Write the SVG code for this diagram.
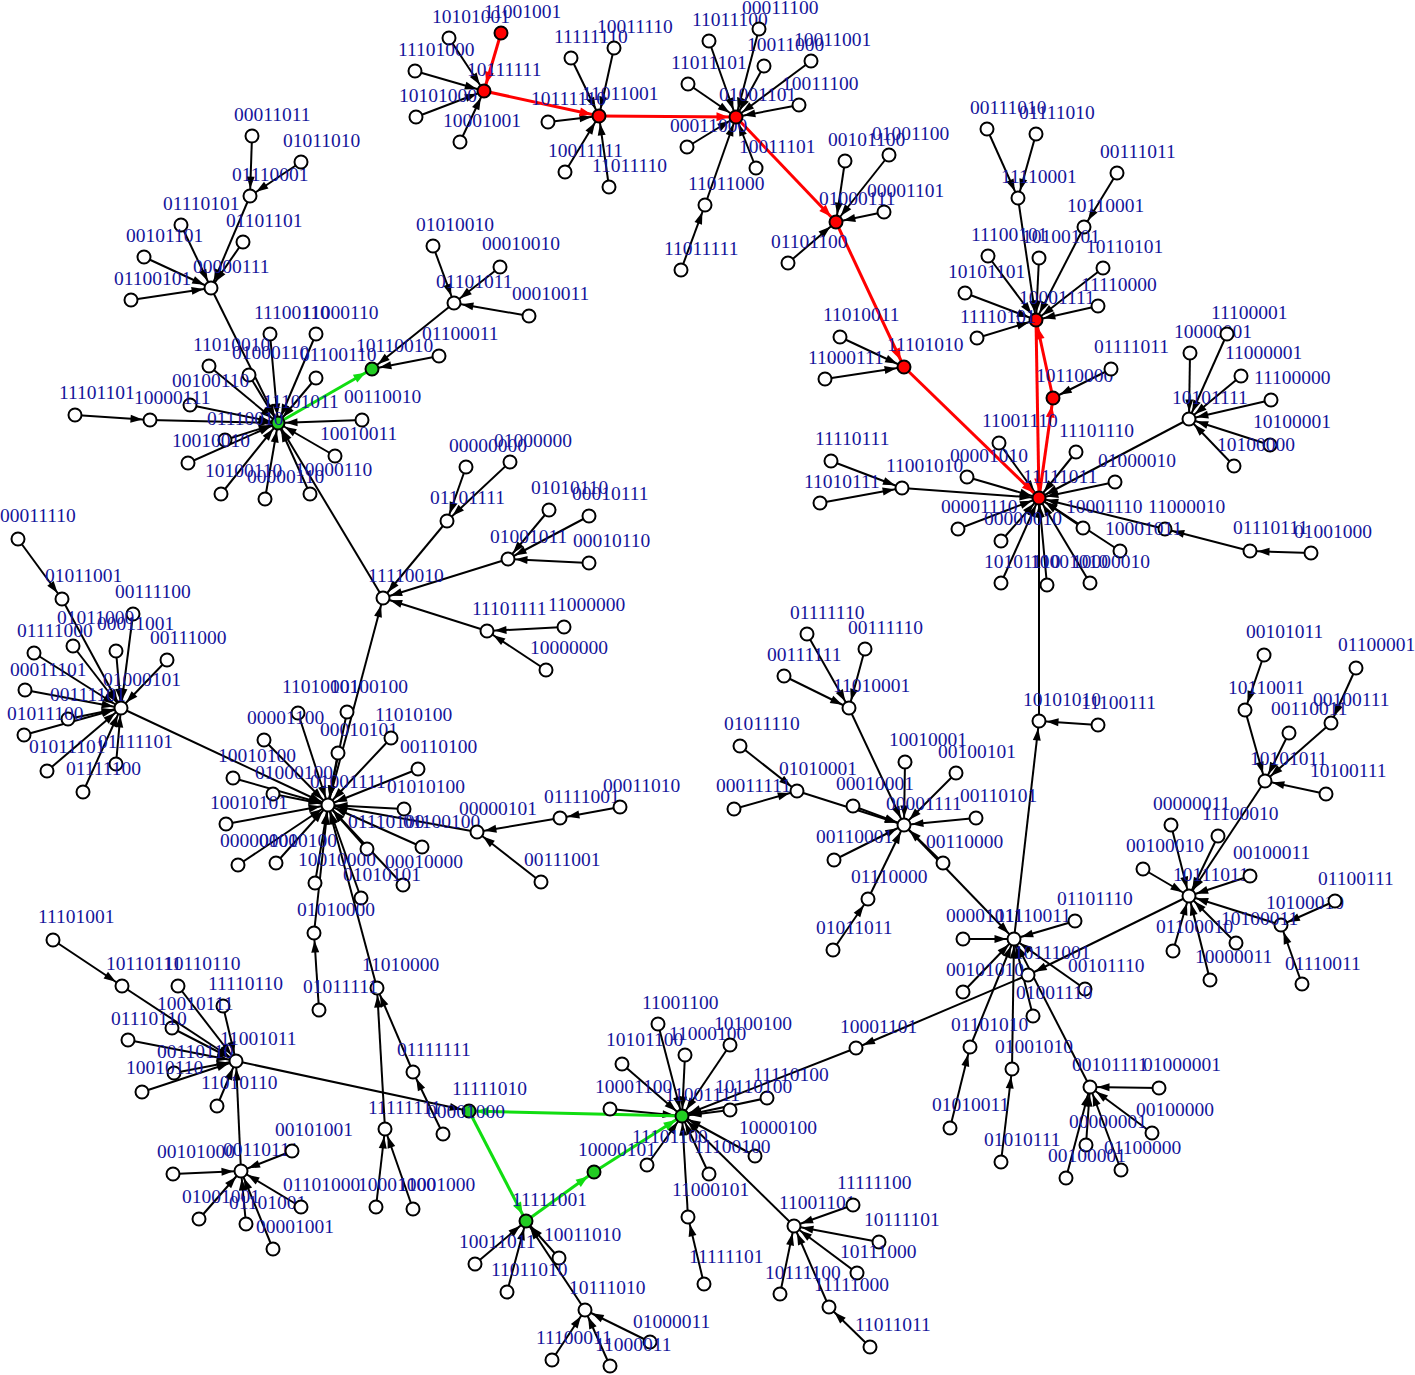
<svg xmlns="http://www.w3.org/2000/svg" width="1415" height="1375" viewBox="0 0 1415 1375">
<style>
.e path{fill:none;stroke:#000;stroke-width:2;marker-end:url(#ab)}
.e path.r{stroke:#ff0000;stroke-width:3;marker-end:url(#ar)}
.e path.g{stroke:#11dd11;stroke-width:3;marker-end:url(#ag)}
circle{fill:#fff;stroke:#000;stroke-width:2}
circle.r{fill:#ff0000}
circle.g{fill:#22cc22}
text{font-family:"Liberation Serif","Times New Roman",serif;font-size:19.5px;fill:#14149a}
</style>
<defs>
<marker id="ab" markerUnits="userSpaceOnUse" markerWidth="12" markerHeight="8" refX="19.5" refY="4" orient="auto" overflow="visible"><path d="M0,0L12,4L0,8z" fill="#000"/></marker>
<marker id="ar" markerUnits="userSpaceOnUse" markerWidth="12" markerHeight="9" refX="19.5" refY="4.5" orient="auto" overflow="visible"><path d="M0,0L12,4.5L0,9z" fill="#ff0000"/></marker>
<marker id="ag" markerUnits="userSpaceOnUse" markerWidth="12" markerHeight="9" refX="19.5" refY="4.5" orient="auto" overflow="visible"><path d="M0,0L12,4.5L0,9z" fill="#11dd11"/></marker>
</defs>
<rect width="1415" height="1375" fill="#fff"/>
<g id="connectors" class="e">
<path d="M449 38L484 91"/><path d="M415 71L484 91"/><path d="M416 117L484 91"/><path d="M460 142L484 91"/>
<path d="M571 58L599 116"/><path d="M614 48L599 116"/><path d="M548 122L599 116"/><path d="M565 172L599 116"/><path d="M609 187L599 116"/>
<path d="M709 41L736 117"/><path d="M759 29L736 117"/><path d="M764 66L736 117"/><path d="M811 61L736 117"/><path d="M688 84L736 117"/><path d="M799 105L736 117"/><path d="M687 147L736 117"/><path d="M756 168L736 117"/><path d="M705 205L736 117"/><path d="M681 270L705 205"/>
<path d="M845 161L836 222"/><path d="M889 155L836 222"/><path d="M884 212L836 222"/><path d="M788 263L836 222"/>
<path d="M840 337L904 367"/><path d="M825 379L904 367"/>
<path d="M1111 369L1053 398"/>
<path d="M1018 198L1036 320"/><path d="M987 129L1018 198"/><path d="M1036 134L1018 198"/><path d="M1084 227L1036 320"/><path d="M1117 173L1084 227"/>
<path d="M988 256L1036 320"/><path d="M1039 258L1036 320"/><path d="M1103 268L1036 320"/><path d="M965 293L1036 320"/><path d="M1098 306L1036 320"/><path d="M977 338L1036 320"/>
<path d="M1189 419L1039 498"/><path d="M1190 353L1189 419"/><path d="M1227 334L1189 419"/><path d="M1241 376L1189 419"/><path d="M1271 400L1189 419"/><path d="M1270 445L1189 419"/><path d="M1234 466L1189 419"/>
<path d="M999 443L1039 498"/><path d="M1076 452L1039 498"/><path d="M967 477L1039 498"/><path d="M1115 482L1039 498"/><path d="M1083 528L1039 498"/><path d="M1165 529L1039 498"/><path d="M1250 551L1165 529"/><path d="M1311 553L1250 551"/>
<path d="M1120 551L1039 498"/><path d="M958 529L1039 498"/><path d="M1001 541L1039 498"/><path d="M1001 583L1039 498"/><path d="M1047 585L1039 498"/><path d="M1090 583L1039 498"/>
<path d="M902 488L1039 498"/><path d="M831 461L902 488"/><path d="M820 503L902 488"/>
<path d="M1039 721L1039 498"/><path d="M1098 725L1039 721"/><path d="M1014 939L1039 721"/>
<path d="M963 939L1014 939"/><path d="M1075 921L1014 939"/><path d="M904 825L1014 939"/>
<path d="M963 992L1014 939"/><path d="M1085 989L1014 939"/><path d="M1033 1016L1014 939"/><path d="M970 1047L1014 939"/><path d="M950 1128L970 1047"/><path d="M1012 1069L1014 939"/><path d="M1001 1162L1012 1069"/>
<path d="M1090 1087L1014 939"/><path d="M1159 1088L1090 1087"/><path d="M1152 1133L1090 1087"/><path d="M1086 1145L1090 1087"/><path d="M1121 1170L1090 1087"/><path d="M1066 1178L1090 1087"/>
<path d="M849 708L904 825"/><path d="M807 634L849 708"/><path d="M865 649L849 708"/><path d="M784 676L849 708"/>
<path d="M797 791L904 825"/><path d="M740 746L797 791"/><path d="M734 809L797 791"/>
<path d="M853 806L904 825"/><path d="M834 860L904 825"/><path d="M868 899L904 825"/><path d="M833 950L868 899"/>
<path d="M905 762L904 825"/><path d="M956 773L904 825"/><path d="M976 818L904 825"/><path d="M943 863L904 825"/>
<path d="M1265 781L1189 896"/><path d="M1245 710L1265 781"/><path d="M1264 655L1245 710"/><path d="M1331 723L1265 781"/><path d="M1356 668L1331 723"/><path d="M1289 733L1265 781"/><path d="M1326 794L1265 781"/>
<path d="M1171 825L1189 896"/><path d="M1218 836L1189 896"/><path d="M1143 869L1189 896"/><path d="M1250 876L1189 896"/><path d="M1281 925L1189 896"/><path d="M1335 901L1281 925"/><path d="M1302 984L1281 925"/>
<path d="M1236 943L1189 896"/><path d="M1173 951L1189 896"/><path d="M1210 980L1189 896"/>
<path d="M1189 896L1028 975"/><path d="M1028 975L856 1048"/><path d="M856 1048L682 1116"/>
<path d="M658 1024L682 1116"/><path d="M685 1055L682 1116"/><path d="M730 1045L682 1116"/><path d="M622 1064L682 1116"/><path d="M610 1109L682 1116"/><path d="M767 1098L682 1116"/><path d="M730 1110L682 1116"/>
<path d="M647 1165L682 1116"/><path d="M755 1156L682 1116"/><path d="M709 1174L682 1116"/><path d="M688 1217L682 1116"/><path d="M704 1284L688 1217"/>
<path d="M794 1226L682 1116"/><path d="M853 1205L794 1226"/><path d="M879 1242L794 1226"/><path d="M857 1273L794 1226"/><path d="M780 1294L794 1226"/><path d="M829 1307L794 1226"/><path d="M870 1347L829 1307"/>
<path d="M559 1258L526 1221"/><path d="M475 1264L526 1221"/><path d="M507 1292L526 1221"/><path d="M585 1310L526 1221"/><path d="M650 1342L585 1310"/><path d="M552 1360L585 1310"/><path d="M610 1366L585 1310"/>
<path d="M236 1061L469 1111"/>
<path d="M443 1134L413 1072"/><path d="M413 1072L377 988"/><path d="M385 1129L377 988"/><path d="M376 1207L385 1129"/><path d="M413 1209L385 1129"/><path d="M377 988L328 805"/>
<path d="M241 1171L236 1061"/><path d="M173 1174L241 1171"/><path d="M292 1151L241 1171"/><path d="M199 1219L241 1171"/><path d="M246 1224L241 1171"/><path d="M301 1207L241 1171"/><path d="M273 1249L241 1171"/>
<path d="M122 986L236 1061"/><path d="M53 940L122 986"/><path d="M178 986L236 1061"/><path d="M223 1006L236 1061"/><path d="M172 1028L236 1061"/><path d="M128 1040L236 1061"/><path d="M174 1073L236 1061"/><path d="M142 1092L236 1061"/><path d="M217 1106L236 1061"/>
<path d="M328 805L383 598"/>
<path d="M347 712L328 805"/><path d="M298 713L328 805"/><path d="M264 740L328 805"/><path d="M338 753L328 805"/><path d="M391 738L328 805"/><path d="M233 778L328 805"/><path d="M273 794L328 805"/><path d="M418 769L328 805"/><path d="M404 809L328 805"/><path d="M226 824L328 805"/>
<path d="M238 865L328 805"/><path d="M276 863L328 805"/><path d="M367 849L328 805"/><path d="M422 847L328 805"/><path d="M315 883L328 805"/><path d="M403 885L328 805"/><path d="M361 898L328 805"/><path d="M314 933L328 805"/><path d="M319 1010L314 933"/>
<path d="M477 832L328 805"/><path d="M560 818L477 832"/><path d="M620 807L560 818"/><path d="M541 882L477 832"/>
<path d="M121 708L328 805"/><path d="M62 599L121 708"/><path d="M18 539L62 599"/><path d="M133 614L121 708"/><path d="M73 646L121 708"/><path d="M116 651L121 708"/><path d="M34 653L121 708"/><path d="M167 660L121 708"/><path d="M25 690L121 708"/><path d="M68 719L121 708"/><path d="M24 735L121 708"/><path d="M47 771L121 708"/><path d="M116 764L121 708"/><path d="M83 792L121 708"/>
<path d="M383 598L278 423"/>
<path d="M447 521L383 598"/><path d="M466 467L447 521"/><path d="M510 462L447 521"/>
<path d="M508 559L383 598"/><path d="M549 510L508 559"/><path d="M589 516L508 559"/><path d="M589 563L508 559"/>
<path d="M487 631L383 598"/><path d="M564 627L487 631"/><path d="M546 670L487 631"/>
<path d="M439 356L372 369"/><path d="M454 303L372 369"/><path d="M433 246L454 303"/><path d="M500 267L454 303"/><path d="M529 316L454 303"/>
<path d="M211 288L278 423"/><path d="M250 196L211 288"/><path d="M252 136L250 196"/><path d="M301 162L250 196"/><path d="M181 225L211 288"/><path d="M243 242L211 288"/><path d="M144 257L211 288"/><path d="M131 300L211 288"/>
<path d="M270 334L278 423"/><path d="M316 334L278 423"/><path d="M209 366L278 423"/><path d="M249 375L278 423"/><path d="M316 378L278 423"/><path d="M190 405L278 423"/><path d="M150 420L278 423"/><path d="M75 415L150 420"/>
<path d="M225 440L278 423"/><path d="M188 463L278 423"/><path d="M221 494L278 423"/><path d="M265 499L278 423"/><path d="M310 494L278 423"/><path d="M335 456L278 423"/><path d="M362 420L278 423"/>
<path class="r" d="M501 33L484 91"/><path class="r" d="M484 91L599 116"/><path class="r" d="M599 116L736 117"/><path class="r" d="M736 117L836 222"/><path class="r" d="M836 222L904 367"/><path class="r" d="M904 367L1039 498"/><path class="r" d="M1039 498L1053 398"/><path class="r" d="M1053 398L1036 320"/><path class="r" d="M1036 320L1039 498"/>
<path class="g" d="M278 423L372 369"/><path class="g" d="M682 1116L469 1111"/><path class="g" d="M469 1111L526 1221"/><path class="g" d="M526 1221L594 1172"/><path class="g" d="M594 1172L682 1116"/>
</g>
<g id="n11001001"><circle class="r" cx="501" cy="33" r="6.5"/><text x="484" y="18">11001001</text></g>
<g id="n10101001"><circle cx="449" cy="38" r="6.5"/><text x="432" y="23">10101001</text></g>
<g id="n11101000"><circle cx="415" cy="71" r="6.5"/><text x="398" y="56">11101000</text></g>
<g id="n10101000"><circle cx="416" cy="117" r="6.5"/><text x="399" y="102">10101000</text></g>
<g id="n10001001"><circle cx="460" cy="142" r="6.5"/><text x="443" y="127">10001001</text></g>
<g id="n10111111"><circle class="r" cx="484" cy="91" r="6.5"/><text x="467" y="76">10111111</text></g>
<g id="n11111110"><circle cx="571" cy="58" r="6.5"/><text x="554" y="43">11111110</text></g>
<g id="n10011110"><circle cx="614" cy="48" r="6.5"/><text x="597" y="33">10011110</text></g>
<g id="n10111110"><circle cx="548" cy="122" r="6.5"/><text x="531" y="105">10111110</text></g>
<g id="n10011111"><circle cx="565" cy="172" r="6.5"/><text x="548" y="157">10011111</text></g>
<g id="n11011110"><circle cx="609" cy="187" r="6.5"/><text x="592" y="172">11011110</text></g>
<g id="n11011001"><circle class="r" cx="599" cy="116" r="6.5"/><text x="582" y="100">11011001</text></g>
<g id="n11011100"><circle cx="709" cy="41" r="6.5"/><text x="692" y="26">11011100</text></g>
<g id="n00011100"><circle cx="759" cy="29" r="6.5"/><text x="742" y="14">00011100</text></g>
<g id="n10011000"><circle cx="764" cy="66" r="6.5"/><text x="747" y="51">10011000</text></g>
<g id="n10011001"><circle cx="811" cy="61" r="6.5"/><text x="794" y="46">10011001</text></g>
<g id="n11011101"><circle cx="688" cy="84" r="6.5"/><text x="671" y="69">11011101</text></g>
<g id="n10011100"><circle cx="799" cy="105" r="6.5"/><text x="782" y="90">10011100</text></g>
<g id="n00011000"><circle cx="687" cy="147" r="6.5"/><text x="670" y="132">00011000</text></g>
<g id="n10011101"><circle cx="756" cy="168" r="6.5"/><text x="739" y="153">10011101</text></g>
<g id="n11011000"><circle cx="705" cy="205" r="6.5"/><text x="688" y="190">11011000</text></g>
<g id="n11011111"><circle cx="681" cy="270" r="6.5"/><text x="664" y="255">11011111</text></g>
<g id="n01001101"><circle class="r" cx="736" cy="117" r="6.5"/><text x="719" y="101">01001101</text></g>
<g id="n00101100"><circle cx="845" cy="161" r="6.5"/><text x="828" y="146">00101100</text></g>
<g id="n01001100"><circle cx="889" cy="155" r="6.5"/><text x="872" y="140">01001100</text></g>
<g id="n00001101"><circle cx="884" cy="212" r="6.5"/><text x="867" y="197">00001101</text></g>
<g id="n01101100"><circle cx="788" cy="263" r="6.5"/><text x="771" y="248">01101100</text></g>
<g id="n01000111"><circle class="r" cx="836" cy="222" r="6.5"/><text x="819" y="205">01000111</text></g>
<g id="n11010011"><circle cx="840" cy="337" r="6.5"/><text x="823" y="321">11010011</text></g>
<g id="n11000111"><circle cx="825" cy="379" r="6.5"/><text x="808" y="364">11000111</text></g>
<g id="n11101010"><circle class="r" cx="904" cy="367" r="6.5"/><text x="887" y="351">11101010</text></g>
<g id="n10110000"><circle class="r" cx="1053" cy="398" r="6.5"/><text x="1036" y="382">10110000</text></g>
<g id="n10001111"><circle class="r" cx="1036" cy="320" r="6.5"/><text x="1019" y="304">10001111</text></g>
<g id="n01111011"><circle cx="1111" cy="369" r="6.5"/><text x="1094" y="353">01111011</text></g>
<g id="n11110001"><circle cx="1018" cy="198" r="6.5"/><text x="1001" y="183">11110001</text></g>
<g id="n00111010"><circle cx="987" cy="129" r="6.5"/><text x="970" y="114">00111010</text></g>
<g id="n01111010"><circle cx="1036" cy="134" r="6.5"/><text x="1019" y="119">01111010</text></g>
<g id="n10110001"><circle cx="1084" cy="227" r="6.5"/><text x="1067" y="212">10110001</text></g>
<g id="n00111011"><circle cx="1117" cy="173" r="6.5"/><text x="1100" y="158">00111011</text></g>
<g id="n11100101"><circle cx="988" cy="256" r="6.5"/><text x="971" y="241">11100101</text></g>
<g id="n10100101"><circle cx="1039" cy="258" r="6.5"/><text x="1022" y="243">10100101</text></g>
<g id="n10110101"><circle cx="1103" cy="268" r="6.5"/><text x="1086" y="253">10110101</text></g>
<g id="n10101101"><circle cx="965" cy="293" r="6.5"/><text x="948" y="278">10101101</text></g>
<g id="n11110000"><circle cx="1098" cy="306" r="6.5"/><text x="1081" y="291">11110000</text></g>
<g id="n11110101"><circle cx="977" cy="338" r="6.5"/><text x="960" y="323">11110101</text></g>
<g id="n10101111"><circle cx="1189" cy="419" r="6.5"/><text x="1172" y="404">10101111</text></g>
<g id="n10000001"><circle cx="1190" cy="353" r="6.5"/><text x="1174" y="338">10000001</text></g>
<g id="n11100001"><circle cx="1227" cy="334" r="6.5"/><text x="1211" y="319">11100001</text></g>
<g id="n11000001"><circle cx="1241" cy="376" r="6.5"/><text x="1225" y="359">11000001</text></g>
<g id="n11100000"><circle cx="1271" cy="400" r="6.5"/><text x="1254" y="384">11100000</text></g>
<g id="n10100001"><circle cx="1270" cy="445" r="6.5"/><text x="1253" y="428">10100001</text></g>
<g id="n10100000"><circle cx="1234" cy="466" r="6.5"/><text x="1217" y="451">10100000</text></g>
<g id="n11001110"><circle cx="999" cy="443" r="6.5"/><text x="982" y="427">11001110</text></g>
<g id="n11101110"><circle cx="1076" cy="452" r="6.5"/><text x="1059" y="437">11101110</text></g>
<g id="n00001010"><circle cx="967" cy="477" r="6.5"/><text x="950" y="462">00001010</text></g>
<g id="n01000010"><circle cx="1115" cy="482" r="6.5"/><text x="1098" y="467">01000010</text></g>
<g id="n10001110"><circle cx="1083" cy="528" r="6.5"/><text x="1066" y="513">10001110</text></g>
<g id="n11000010"><circle cx="1165" cy="529" r="6.5"/><text x="1148" y="513">11000010</text></g>
<g id="n01110111"><circle cx="1250" cy="551" r="6.5"/><text x="1233" y="534">01110111</text></g>
<g id="n01001000"><circle cx="1311" cy="553" r="6.5"/><text x="1294" y="538">01001000</text></g>
<g id="n10001011"><circle cx="1120" cy="551" r="6.5"/><text x="1105" y="535">10001011</text></g>
<g id="n00001110"><circle cx="958" cy="529" r="6.5"/><text x="941" y="513">00001110</text></g>
<g id="n00000010"><circle cx="1001" cy="541" r="6.5"/><text x="984" y="525">00000010</text></g>
<g id="n10101110"><circle cx="1001" cy="583" r="6.5"/><text x="984" y="568">10101110</text></g>
<g id="n10001010"><circle cx="1047" cy="585" r="6.5"/><text x="1030" y="568">10001010</text></g>
<g id="n10000010"><circle cx="1090" cy="583" r="6.5"/><text x="1072" y="568">10000010</text></g>
<g id="n11001010"><circle cx="902" cy="488" r="6.5"/><text x="886" y="472">11001010</text></g>
<g id="n11110111"><circle cx="831" cy="461" r="6.5"/><text x="815" y="445">11110111</text></g>
<g id="n11010111"><circle cx="820" cy="503" r="6.5"/><text x="804" y="488">11010111</text></g>
<g id="n11111011"><circle class="r" cx="1039" cy="498" r="6.5"/><text x="1023" y="483">11111011</text></g>
<g id="n10101010"><circle cx="1039" cy="721" r="6.5"/><text x="1023" y="706">10101010</text></g>
<g id="n11100111"><circle cx="1098" cy="725" r="6.5"/><text x="1081" y="709">11100111</text></g>
<g id="n11110011"><circle cx="1014" cy="939" r="6.5"/><text x="996" y="922">11110011</text></g>
<g id="n00001011"><circle cx="963" cy="939" r="6.5"/><text x="946" y="922">00001011</text></g>
<g id="n01101110"><circle cx="1075" cy="921" r="6.5"/><text x="1057" y="905">01101110</text></g>
<g id="n10111001"><circle cx="1028" cy="975" r="6.5"/><text x="1014" y="959">10111001</text></g>
<g id="n00101010"><circle cx="963" cy="992" r="6.5"/><text x="946" y="976">00101010</text></g>
<g id="n00101110"><circle cx="1085" cy="989" r="6.5"/><text x="1068" y="972">00101110</text></g>
<g id="n01001110"><circle cx="1033" cy="1016" r="6.5"/><text x="1016" y="999">01001110</text></g>
<g id="n01101010"><circle cx="970" cy="1047" r="6.5"/><text x="951" y="1031">01101010</text></g>
<g id="n01010011"><circle cx="950" cy="1128" r="6.5"/><text x="932" y="1111">01010011</text></g>
<g id="n01001010"><circle cx="1012" cy="1069" r="6.5"/><text x="995" y="1053">01001010</text></g>
<g id="n01010111"><circle cx="1001" cy="1162" r="6.5"/><text x="984" y="1146">01010111</text></g>
<g id="n00101111"><circle cx="1090" cy="1087" r="6.5"/><text x="1072" y="1071">00101111</text></g>
<g id="n01000001"><circle cx="1159" cy="1088" r="6.5"/><text x="1143" y="1071">01000001</text></g>
<g id="n00100000"><circle cx="1152" cy="1133" r="6.5"/><text x="1136" y="1116">00100000</text></g>
<g id="n00000001"><circle cx="1086" cy="1145" r="6.5"/><text x="1069" y="1128">00000001</text></g>
<g id="n01100000"><circle cx="1121" cy="1170" r="6.5"/><text x="1104" y="1154">01100000</text></g>
<g id="n00100001"><circle cx="1066" cy="1178" r="6.5"/><text x="1048" y="1162">00100001</text></g>
<g id="n00001111"><circle cx="904" cy="825" r="6.5"/><text x="886" y="810">00001111</text></g>
<g id="n11010001"><circle cx="849" cy="708" r="6.5"/><text x="833" y="692">11010001</text></g>
<g id="n01111110"><circle cx="807" cy="634" r="6.5"/><text x="790" y="619">01111110</text></g>
<g id="n00111110"><circle cx="865" cy="649" r="6.5"/><text x="848" y="634">00111110</text></g>
<g id="n00111111"><circle cx="784" cy="676" r="6.5"/><text x="767" y="661">00111111</text></g>
<g id="n01010001"><circle cx="797" cy="791" r="6.5"/><text x="779" y="775">01010001</text></g>
<g id="n01011110"><circle cx="740" cy="746" r="6.5"/><text x="724" y="730">01011110</text></g>
<g id="n00011111"><circle cx="734" cy="809" r="6.5"/><text x="716" y="792">00011111</text></g>
<g id="n00010001"><circle cx="853" cy="806" r="6.5"/><text x="836" y="790">00010001</text></g>
<g id="n00110001"><circle cx="834" cy="860" r="6.5"/><text x="816" y="843">00110001</text></g>
<g id="n01110000"><circle cx="868" cy="899" r="6.5"/><text x="851" y="883">01110000</text></g>
<g id="n01011011"><circle cx="833" cy="950" r="6.5"/><text x="816" y="934">01011011</text></g>
<g id="n10010001"><circle cx="905" cy="762" r="6.5"/><text x="889" y="746">10010001</text></g>
<g id="n00100101"><circle cx="956" cy="773" r="6.5"/><text x="938" y="758">00100101</text></g>
<g id="n00110101"><circle cx="976" cy="818" r="6.5"/><text x="960" y="802">00110101</text></g>
<g id="n00110000"><circle cx="943" cy="863" r="6.5"/><text x="926" y="848">00110000</text></g>
<g id="n10111011"><circle cx="1189" cy="896" r="6.5"/><text x="1173" y="881">10111011</text></g>
<g id="n10101011"><circle cx="1265" cy="781" r="6.5"/><text x="1250" y="765">10101011</text></g>
<g id="n10110011"><circle cx="1245" cy="710" r="6.5"/><text x="1228" y="694">10110011</text></g>
<g id="n00101011"><circle cx="1264" cy="655" r="6.5"/><text x="1246" y="638">00101011</text></g>
<g id="n00100111"><circle cx="1331" cy="723" r="6.5"/><text x="1313" y="706">00100111</text></g>
<g id="n01100001"><circle cx="1356" cy="668" r="6.5"/><text x="1338" y="651">01100001</text></g>
<g id="n00110011"><circle cx="1289" cy="733" r="6.5"/><text x="1271" y="715">00110011</text></g>
<g id="n10100111"><circle cx="1326" cy="794" r="6.5"/><text x="1310" y="777">10100111</text></g>
<g id="n00000011"><circle cx="1171" cy="825" r="6.5"/><text x="1153" y="810">00000011</text></g>
<g id="n11100010"><circle cx="1218" cy="836" r="6.5"/><text x="1202" y="820">11100010</text></g>
<g id="n00100010"><circle cx="1143" cy="869" r="6.5"/><text x="1126" y="852">00100010</text></g>
<g id="n00100011"><circle cx="1250" cy="876" r="6.5"/><text x="1233" y="859">00100011</text></g>
<g id="n10100010"><circle cx="1281" cy="925" r="6.5"/><text x="1266" y="909">10100010</text></g>
<g id="n01100111"><circle cx="1335" cy="901" r="6.5"/><text x="1318" y="885">01100111</text></g>
<g id="n01110011"><circle cx="1302" cy="984" r="6.5"/><text x="1285" y="970">01110011</text></g>
<g id="n10100011"><circle cx="1236" cy="943" r="6.5"/><text x="1221" y="925">10100011</text></g>
<g id="n01100010"><circle cx="1173" cy="951" r="6.5"/><text x="1156" y="933">01100010</text></g>
<g id="n10000011"><circle cx="1210" cy="980" r="6.5"/><text x="1195" y="963">10000011</text></g>
<g id="n10001101"><circle cx="856" cy="1048" r="6.5"/><text x="840" y="1033">10001101</text></g>
<g id="n11001100"><circle cx="658" cy="1024" r="6.5"/><text x="642" y="1009">11001100</text></g>
<g id="n11000100"><circle cx="685" cy="1055" r="6.5"/><text x="669" y="1040">11000100</text></g>
<g id="n10100100"><circle cx="730" cy="1045" r="6.5"/><text x="714" y="1030">10100100</text></g>
<g id="n10101100"><circle cx="622" cy="1064" r="6.5"/><text x="606" y="1046">10101100</text></g>
<g id="n10001100"><circle cx="610" cy="1109" r="6.5"/><text x="595" y="1093">10001100</text></g>
<g id="n11110100"><circle cx="767" cy="1098" r="6.5"/><text x="753" y="1081">11110100</text></g>
<g id="n10110100"><circle cx="730" cy="1110" r="6.5"/><text x="715" y="1093">10110100</text></g>
<g id="n11001111"><circle class="g" cx="682" cy="1116" r="6.5"/><text x="665" y="1101">11001111</text></g>
<g id="n10000101"><circle class="g" cx="594" cy="1172" r="6.5"/><text x="578" y="1156">10000101</text></g>
<g id="n11101100"><circle cx="647" cy="1165" r="6.5"/><text x="632" y="1143">11101100</text></g>
<g id="n10000100"><circle cx="755" cy="1156" r="6.5"/><text x="739" y="1134">10000100</text></g>
<g id="n11100100"><circle cx="709" cy="1174" r="6.5"/><text x="694" y="1153">11100100</text></g>
<g id="n11000101"><circle cx="688" cy="1217" r="6.5"/><text x="672" y="1196">11000101</text></g>
<g id="n11111101"><circle cx="704" cy="1284" r="6.5"/><text x="689" y="1263">11111101</text></g>
<g id="n11001101"><circle cx="794" cy="1226" r="6.5"/><text x="779" y="1209">11001101</text></g>
<g id="n11111100"><circle cx="853" cy="1205" r="6.5"/><text x="837" y="1189">11111100</text></g>
<g id="n10111101"><circle cx="879" cy="1242" r="6.5"/><text x="864" y="1226">10111101</text></g>
<g id="n10111000"><circle cx="857" cy="1273" r="6.5"/><text x="840" y="1258">10111000</text></g>
<g id="n10111100"><circle cx="780" cy="1294" r="6.5"/><text x="765" y="1279">10111100</text></g>
<g id="n11111000"><circle cx="829" cy="1307" r="6.5"/><text x="814" y="1291">11111000</text></g>
<g id="n11011011"><circle cx="870" cy="1347" r="6.5"/><text x="855" y="1331">11011011</text></g>
<g id="n11111010"><circle class="g" cx="469" cy="1111" r="6.5"/><text x="452" y="1095">11111010</text></g>
<g id="n11111001"><circle class="g" cx="526" cy="1221" r="6.5"/><text x="512" y="1206">11111001</text></g>
<g id="n10011010"><circle cx="559" cy="1258" r="6.5"/><text x="544" y="1241">10011010</text></g>
<g id="n10011011"><circle cx="475" cy="1264" r="6.5"/><text x="459" y="1248">10011011</text></g>
<g id="n11011010"><circle cx="507" cy="1292" r="6.5"/><text x="491" y="1276">11011010</text></g>
<g id="n10111010"><circle cx="585" cy="1310" r="6.5"/><text x="569" y="1294">10111010</text></g>
<g id="n01000011"><circle cx="650" cy="1342" r="6.5"/><text x="633" y="1328">01000011</text></g>
<g id="n11100011"><circle cx="552" cy="1360" r="6.5"/><text x="536" y="1344">11100011</text></g>
<g id="n11000011"><circle cx="610" cy="1366" r="6.5"/><text x="595" y="1351">11000011</text></g>
<g id="n11001011"><circle cx="236" cy="1061" r="6.5"/><text x="220" y="1045">11001011</text></g>
<g id="n00001000"><circle cx="443" cy="1134" r="6.5"/><text x="427" y="1118">00001000</text></g>
<g id="n01111111"><circle cx="413" cy="1072" r="6.5"/><text x="397" y="1056">01111111</text></g>
<g id="n11111111"><circle cx="385" cy="1129" r="6.5"/><text x="368" y="1114">11111111</text></g>
<g id="n10001000"><circle cx="376" cy="1207" r="6.5"/><text x="358" y="1191">10001000</text></g>
<g id="n11001000"><circle cx="413" cy="1209" r="6.5"/><text x="398" y="1191">11001000</text></g>
<g id="n11010000"><circle cx="377" cy="988" r="6.5"/><text x="362" y="971">11010000</text></g>
<g id="n00110111"><circle cx="241" cy="1171" r="6.5"/><text x="223" y="1156">00110111</text></g>
<g id="n00101000"><circle cx="173" cy="1174" r="6.5"/><text x="157" y="1158">00101000</text></g>
<g id="n00101001"><circle cx="292" cy="1151" r="6.5"/><text x="275" y="1136">00101001</text></g>
<g id="n01001001"><circle cx="199" cy="1219" r="6.5"/><text x="182" y="1203">01001001</text></g>
<g id="n01101001"><circle cx="246" cy="1224" r="6.5"/><text x="229" y="1209">01101001</text></g>
<g id="n01101000"><circle cx="301" cy="1207" r="6.5"/><text x="283" y="1191">01101000</text></g>
<g id="n00001001"><circle cx="273" cy="1249" r="6.5"/><text x="256" y="1233">00001001</text></g>
<g id="n10110111"><circle cx="122" cy="986" r="6.5"/><text x="106" y="970">10110111</text></g>
<g id="n11101001"><circle cx="53" cy="940" r="6.5"/><text x="38" y="923">11101001</text></g>
<g id="n10110110"><circle cx="178" cy="986" r="6.5"/><text x="164" y="970">10110110</text></g>
<g id="n11110110"><circle cx="223" cy="1006" r="6.5"/><text x="208" y="990">11110110</text></g>
<g id="n10010111"><circle cx="172" cy="1028" r="6.5"/><text x="157" y="1010">10010111</text></g>
<g id="n01110110"><circle cx="128" cy="1040" r="6.5"/><text x="111" y="1025">01110110</text></g>
<g id="n00110110"><circle cx="174" cy="1073" r="6.5"/><text x="157" y="1058">00110110</text></g>
<g id="n10010110"><circle cx="142" cy="1092" r="6.5"/><text x="126" y="1074">10010110</text></g>
<g id="n11010110"><circle cx="217" cy="1106" r="6.5"/><text x="201" y="1089">11010110</text></g>
<g id="n01001111"><circle cx="328" cy="805" r="6.5"/><text x="310" y="788">01001111</text></g>
<g id="n00100100"><circle cx="347" cy="712" r="6.5"/><text x="330" y="693">00100100</text></g>
<g id="n11010101"><circle cx="298" cy="713" r="6.5"/><text x="282" y="693">11010101</text></g>
<g id="n00001100"><circle cx="264" cy="740" r="6.5"/><text x="247" y="724">00001100</text></g>
<g id="n00010101"><circle cx="338" cy="753" r="6.5"/><text x="320" y="736">00010101</text></g>
<g id="n11010100"><circle cx="391" cy="738" r="6.5"/><text x="375" y="721">11010100</text></g>
<g id="n10010100"><circle cx="233" cy="778" r="6.5"/><text x="218" y="762">10010100</text></g>
<g id="n01000100"><circle cx="273" cy="794" r="6.5"/><text x="255" y="779">01000100</text></g>
<g id="n00110100"><circle cx="418" cy="769" r="6.5"/><text x="400" y="753">00110100</text></g>
<g id="n01010100"><circle cx="404" cy="809" r="6.5"/><text x="387" y="793">01010100</text></g>
<g id="n10010101"><circle cx="226" cy="824" r="6.5"/><text x="210" y="809">10010101</text></g>
<g id="n00000100"><circle cx="238" cy="865" r="6.5"/><text x="220" y="847">00000100</text></g>
<g id="n00010100"><circle cx="276" cy="863" r="6.5"/><text x="259" y="847">00010100</text></g>
<g id="n01110100"><circle cx="367" cy="849" r="6.5"/><text x="348" y="828">01110100</text></g>
<g id="n01100100"><circle cx="422" cy="847" r="6.5"/><text x="403" y="828">01100100</text></g>
<g id="n10010000"><circle cx="315" cy="883" r="6.5"/><text x="298" y="866">10010000</text></g>
<g id="n00010000"><circle cx="403" cy="885" r="6.5"/><text x="385" y="868">00010000</text></g>
<g id="n01010101"><circle cx="361" cy="898" r="6.5"/><text x="343" y="881">01010101</text></g>
<g id="n01010000"><circle cx="314" cy="933" r="6.5"/><text x="297" y="916">01010000</text></g>
<g id="n01011111"><circle cx="319" cy="1010" r="6.5"/><text x="303" y="993">01011111</text></g>
<g id="n00000101"><circle cx="477" cy="832" r="6.5"/><text x="459" y="815">00000101</text></g>
<g id="n01111001"><circle cx="560" cy="818" r="6.5"/><text x="544" y="803">01111001</text></g>
<g id="n00011010"><circle cx="620" cy="807" r="6.5"/><text x="603" y="792">00011010</text></g>
<g id="n00111001"><circle cx="541" cy="882" r="6.5"/><text x="524" y="866">00111001</text></g>
<g id="n01000101"><circle cx="121" cy="708" r="6.5"/><text x="103" y="686">01000101</text></g>
<g id="n01011001"><circle cx="62" cy="599" r="6.5"/><text x="45" y="582">01011001</text></g>
<g id="n00011110"><circle cx="18" cy="539" r="6.5"/><text x="0" y="522">00011110</text></g>
<g id="n00111100"><circle cx="133" cy="614" r="6.5"/><text x="115" y="598">00111100</text></g>
<g id="n01011000"><circle cx="73" cy="646" r="6.5"/><text x="57" y="624">01011000</text></g>
<g id="n00011001"><circle cx="116" cy="651" r="6.5"/><text x="97" y="630">00011001</text></g>
<g id="n01111000"><circle cx="34" cy="653" r="6.5"/><text x="17" y="637">01111000</text></g>
<g id="n00111000"><circle cx="167" cy="660" r="6.5"/><text x="150" y="644">00111000</text></g>
<g id="n00011101"><circle cx="25" cy="690" r="6.5"/><text x="10" y="676">00011101</text></g>
<g id="n00111101"><circle cx="68" cy="719" r="6.5"/><text x="50" y="701">00111101</text></g>
<g id="n01011100"><circle cx="24" cy="735" r="6.5"/><text x="7" y="720">01011100</text></g>
<g id="n01011101"><circle cx="47" cy="771" r="6.5"/><text x="29" y="753">01011101</text></g>
<g id="n01111101"><circle cx="116" cy="764" r="6.5"/><text x="98" y="748">01111101</text></g>
<g id="n01111100"><circle cx="83" cy="792" r="6.5"/><text x="66" y="775">01111100</text></g>
<g id="n11110010"><circle cx="383" cy="598" r="6.5"/><text x="368" y="582">11110010</text></g>
<g id="n01101111"><circle cx="447" cy="521" r="6.5"/><text x="430" y="504">01101111</text></g>
<g id="n00000000"><circle cx="466" cy="467" r="6.5"/><text x="449" y="452">00000000</text></g>
<g id="n01000000"><circle cx="510" cy="462" r="6.5"/><text x="494" y="447">01000000</text></g>
<g id="n01001011"><circle cx="508" cy="559" r="6.5"/><text x="490" y="543">01001011</text></g>
<g id="n01010110"><circle cx="549" cy="510" r="6.5"/><text x="531" y="494">01010110</text></g>
<g id="n00010111"><circle cx="589" cy="516" r="6.5"/><text x="572" y="500">00010111</text></g>
<g id="n00010110"><circle cx="589" cy="563" r="6.5"/><text x="573" y="547">00010110</text></g>
<g id="n11101111"><circle cx="487" cy="631" r="6.5"/><text x="472" y="615">11101111</text></g>
<g id="n11000000"><circle cx="564" cy="627" r="6.5"/><text x="548" y="611">11000000</text></g>
<g id="n10000000"><circle cx="546" cy="670" r="6.5"/><text x="530" y="654">10000000</text></g>
<g id="n11101011"><circle class="g" cx="278" cy="423" r="6.5"/><text x="263" y="408">11101011</text></g>
<g id="n10110010"><circle class="g" cx="372" cy="369" r="6.5"/><text x="356" y="352">10110010</text></g>
<g id="n01100011"><circle cx="439" cy="356" r="6.5"/><text x="422" y="340">01100011</text></g>
<g id="n01101011"><circle cx="454" cy="303" r="6.5"/><text x="436" y="288">01101011</text></g>
<g id="n01010010"><circle cx="433" cy="246" r="6.5"/><text x="416" y="231">01010010</text></g>
<g id="n00010010"><circle cx="500" cy="267" r="6.5"/><text x="482" y="250">00010010</text></g>
<g id="n00010011"><circle cx="529" cy="316" r="6.5"/><text x="512" y="300">00010011</text></g>
<g id="n00000111"><circle cx="211" cy="288" r="6.5"/><text x="193" y="273">00000111</text></g>
<g id="n01110001"><circle cx="250" cy="196" r="6.5"/><text x="232" y="181">01110001</text></g>
<g id="n00011011"><circle cx="252" cy="136" r="6.5"/><text x="234" y="121">00011011</text></g>
<g id="n01011010"><circle cx="301" cy="162" r="6.5"/><text x="283" y="147">01011010</text></g>
<g id="n01110101"><circle cx="181" cy="225" r="6.5"/><text x="163" y="210">01110101</text></g>
<g id="n01101101"><circle cx="243" cy="242" r="6.5"/><text x="226" y="227">01101101</text></g>
<g id="n00101101"><circle cx="144" cy="257" r="6.5"/><text x="126" y="242">00101101</text></g>
<g id="n01100101"><circle cx="131" cy="300" r="6.5"/><text x="114" y="285">01100101</text></g>
<g id="n11100110"><circle cx="270" cy="334" r="6.5"/><text x="254" y="319">11100110</text></g>
<g id="n11000110"><circle cx="316" cy="334" r="6.5"/><text x="302" y="319">11000110</text></g>
<g id="n11010010"><circle cx="209" cy="366" r="6.5"/><text x="193" y="351">11010010</text></g>
<g id="n01000110"><circle cx="249" cy="375" r="6.5"/><text x="232" y="359">01000110</text></g>
<g id="n01100110"><circle cx="316" cy="378" r="6.5"/><text x="300" y="361">01100110</text></g>
<g id="n00100110"><circle cx="190" cy="405" r="6.5"/><text x="172" y="387">00100110</text></g>
<g id="n10000111"><circle cx="150" cy="420" r="6.5"/><text x="134" y="404">10000111</text></g>
<g id="n11101101"><circle cx="75" cy="415" r="6.5"/><text x="59" y="399">11101101</text></g>
<g id="n01110010"><circle cx="225" cy="440" r="6.5"/><text x="207" y="425">01110010</text></g>
<g id="n10010010"><circle cx="188" cy="463" r="6.5"/><text x="172" y="447">10010010</text></g>
<g id="n10100110"><circle cx="221" cy="494" r="6.5"/><text x="205" y="477">10100110</text></g>
<g id="n00000110"><circle cx="265" cy="499" r="6.5"/><text x="247" y="483">00000110</text></g>
<g id="n10000110"><circle cx="310" cy="494" r="6.5"/><text x="295" y="476">10000110</text></g>
<g id="n10010011"><circle cx="335" cy="456" r="6.5"/><text x="320" y="440">10010011</text></g>
<g id="n00110010"><circle cx="362" cy="420" r="6.5"/><text x="344" y="403">00110010</text></g>
</svg>
